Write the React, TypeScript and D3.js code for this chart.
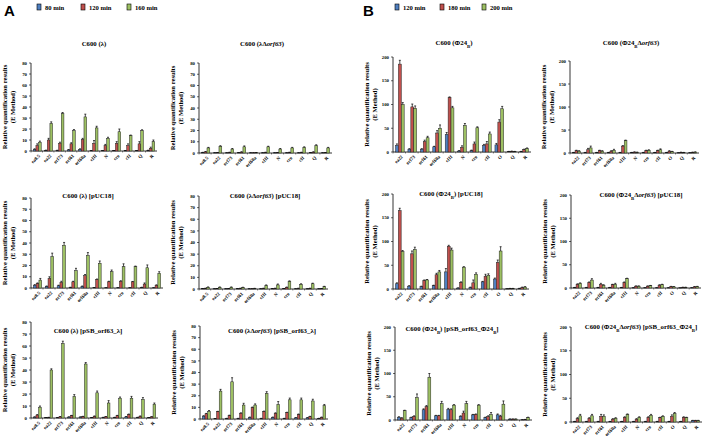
import React from 'react';
import * as d3 from 'd3';

// gene categories
const catsA = ['ea8.5', 'ea22', 'orf73', 'orf61', 'orf60a', 'cIII', 'N', 'cro', 'cII', 'Q', 'R'];
const catsB = ['ea22', 'orf73', 'orf61', 'orf60a', 'cIII', 'N', 'cro', 'cII', 'O', 'Q', 'R'];

const ticksA = [0, 10, 20, 30, 40, 50, 60, 70, 80];
const ticksB = [0, 50, 100, 150, 200];

const legendA = ['80 min', '120 min', '160 min'];
const legendB = ['120 min', '180 min', '200 min'];

// A1  C600 (λ)
const a1Blue = [1.5, 0.5, 0.5, 1, 1.5, 0.3, 0.3, 0.3, 0.3, 0.3, 0.5];
const a1Red = [5, 10, 7, 6.5, 10.5, 7, 5, 7, 5, 6.5, 2.5];
const a1Green = [8, 25, 34, 18.5, 31, 21, 11.5, 17.5, 14, 18.5, 8.5];
const a1BlueErr = [0.5, 0.3, 0.2, 0.3, 0.5, 0.1, 0.1, 0.1, 0.1, 0.1, 0.2];
const a1RedErr = [1.5, 1.5, 1, 1, 1, 2.5, 1, 1.5, 1.5, 2, 1];
const a1GreenErr = [1, 1.5, 1, 1, 2.5, 1.5, 1, 2.5, 0.5, 0.8, 1.5];

// A2  C600 (λΔorf63)
const a2Blue = [0.5, 0.2, 0.2, 0.3, 0.2, 0.2, 0.2, 0.2, 0.2, 0.3, 0.2];
const a2Red = [1, 0.3, 0.5, 0.8, 0.2, 0.5, 0.3, 0.5, 0.5, 0.8, 0.3];
const a2Green = [4.5, 6, 3.5, 5.5, 0.3, 5.5, 3.5, 4.5, 5, 6.5, 4.5];
const a2BlueErr = [0.1, 0.1, 0.1, 0.1, 0.1, 0.1, 0.1, 0.1, 0.1, 0.1, 0.1];
const a2RedErr = [0.3, 0.1, 0.2, 0.3, 0.1, 0.2, 0.1, 0.2, 0.2, 0.3, 0.1];
const a2GreenErr = [0.5, 0.5, 0.5, 0.8, 0.1, 0.5, 0.5, 0.5, 0.5, 0.8, 0.5];

// B1  C600 (Φ24B)
const b1Blue = [14, 6, 6, 11, 37, 2, 3, 14, 15, 1, 1];
const b1Red = [185, 95, 22, 40, 115, 10, 17, 17, 63, 1.5, 5];
const b1Green = [100, 92, 30, 50, 93, 56, 51, 38, 91, 1, 7];
const b1BlueErr = [3, 1, 1, 1, 4, 1, 1, 2, 3, 0.3, 0.3];
const b1RedErr = [8, 6, 3, 5, 1, 3, 4, 5, 5, 0.5, 1];
const b1GreenErr = [4, 5, 3, 7, 3, 4, 2, 4, 5, 0.3, 1.5];

// B2  C600 (Φ24BΔorf63)
const b2Blue = [1, 1, 1, 1, 1, 1, 1, 1, 1, 0.5, 0.5];
const b2Red = [5, 7, 5, 4, 15, 2, 5, 5, 4, 1.5, 1.5];
const b2Green = [4, 11, 4, 6, 27, 1.5, 6, 7, 3, 1, 2];
const b2BlueErr = [0.3, 0.3, 0.3, 0.3, 0.3, 0.3, 0.3, 0.3, 0.3, 0.2, 0.2];
const b2RedErr = [1, 3, 1, 1, 1, 0.5, 1, 1, 1, 0.3, 0.5];
const b2GreenErr = [1, 4, 1, 2, 1, 0.5, 1, 2, 0.5, 0.3, 0.5];

// A3  C600 (λ) [pUC18]
const a3Blue = [2.5, 1.5, 2, 0.5, 1.5, 0.3, 0.2, 0.2, 0.2, 0.5, 0.2];
const a3Red = [4, 8.5, 5, 5.5, 11, 7.5, 5.5, 6, 5.5, 3.5, 2.5];
const a3Green = [7, 28, 38, 15.5, 29, 22, 14.5, 19, 19, 18, 13];
const a3BlueErr = [0.5, 0.3, 0.5, 0.2, 0.3, 0.1, 0.1, 0.1, 0.1, 0.2, 0.1];
const a3RedErr = [0.5, 1.5, 1, 0.5, 1, 0.5, 0.5, 0.5, 0.3, 1, 0.3];
const a3GreenErr = [1.5, 3, 2.5, 2, 2.5, 2, 1.5, 2.5, 0.5, 2.5, 1.5];

// A4  C600 (λΔorf63) [pUC18]
const a4Blue = [0.3, 0.2, 0.2, 0.3, 0.2, 0.2, 0.3, 0.3, 0.2, 0.2, 0.2];
const a4Red = [0.5, 0.3, 0.3, 0.5, 0.2, 0.5, 0.5, 1.5, 0.5, 0.5, 0.3];
const a4Green = [1.5, 1.5, 1.5, 1.2, 0.5, 3, 3.5, 6.5, 4, 4.5, 2];
const a4BlueErr = [0.1, 0.1, 0.1, 0.1, 0.1, 0.1, 0.1, 0.1, 0.1, 0.1, 0.1];
const a4RedErr = [0.2, 0.1, 0.1, 0.2, 0.1, 0.2, 0.2, 0.2, 0.2, 0.2, 0.1];
const a4GreenErr = [0.3, 0.3, 0.3, 0.3, 0.1, 0.5, 0.8, 0.5, 0.5, 0.5, 0.3];

// B3  C600 (Φ24B) [pUC18]
const b3Blue = [11, 6, 5, 7, 36, 2, 3, 15, 21, 0.5, 1];
const b3Red = [165, 74, 18, 30, 90, 14, 13, 27, 56, 1, 3];
const b3Green = [79, 83, 19, 36, 82, 46, 31, 29, 80, 1, 4];
const b3BlueErr = [2, 1, 1, 1, 7, 0.5, 1, 1, 2, 0.2, 0.5];
const b3RedErr = [5, 6, 1, 3, 2, 1, 6, 4, 5, 0.3, 1];
const b3GreenErr = [2, 5, 1, 3, 4, 1, 3, 3, 9, 0.3, 1];

// B4  C600 (Φ24BΔorf63) [pUC18]
const b4Blue = [1, 1, 1, 1, 1, 0.5, 0.5, 0.5, 0.5, 0.3, 0.5];
const b4Red = [8, 12, 8, 7, 12, 4, 4, 6, 3, 1.5, 2.5];
const b4Green = [10, 17, 6, 8, 20, 4, 5, 7, 2.5, 1.5, 3];
const b4BlueErr = [0.3, 0.3, 0.3, 0.3, 0.3, 0.2, 0.2, 0.2, 0.2, 0.1, 0.2];
const b4RedErr = [1, 1, 2, 1, 1, 0.5, 0.5, 1, 0.5, 0.3, 0.5];
const b4GreenErr = [1, 3, 1, 2, 1, 0.5, 0.5, 1, 0.5, 0.3, 0.5];

// A5  C600 (λ) [pSB_orf63_λ]
const a5Blue = [0.8, 0.3, 0.3, 0.8, 0.8, 0.3, 0.5, 0.5, 1, 0.5, 0.3];
const a5Red = [2.5, 0.5, 1, 2, 1.2, 1.5, 1, 2, 3, 1.5, 1];
const a5Green = [9, 40, 62, 18, 45, 21, 12.5, 16.5, 16.5, 15.5, 11.5];
const a5BlueErr = [0.2, 0.1, 0.1, 0.2, 0.2, 0.1, 0.1, 0.1, 0.2, 0.1, 0.1];
const a5RedErr = [0.3, 0.1, 0.2, 0.2, 0.2, 0.2, 0.2, 0.2, 0.3, 0.2, 0.1];
const a5GreenErr = [1, 1, 2, 1.5, 1.2, 1.5, 2, 1, 1.5, 1.5, 1];

// A6  C600 (λΔorf63) [pSB_orf63_λ]
const a6Blue = [2.5, 0.3, 0.5, 0.5, 1.5, 0.5, 1.5, 0.5, 1, 1, 0.5];
const a6Red = [4.5, 6.5, 3, 5, 10, 6.5, 5, 5.5, 4, 2, 1.5];
const a6Green = [6.5, 24, 32, 12, 12, 22, 12.5, 16.5, 16.5, 15.5, 11.5];
const a6BlueErr = [0.3, 0.1, 0.1, 0.1, 0.2, 0.1, 0.2, 0.1, 0.2, 0.2, 0.1];
const a6RedErr = [0.3, 0.1, 0.3, 0.3, 0.3, 0.3, 0.3, 0.3, 0.3, 0.3, 0.2];
const a6GreenErr = [0.8, 1.5, 3.5, 1.5, 1, 1.5, 2.5, 1.5, 1.5, 1.5, 1];

// B5  C600 (Φ24B) [pSB_orf63_Φ24B]
const b5Blue = [6, 5, 22, 9, 23, 8, 11, 5, 11, 2, 0.5];
const b5Red = [4, 8, 29, 9, 22, 15, 12, 7, 8, 2, 1];
const b5Green = [20, 48, 92, 35, 32, 35, 32, 12, 34, 2, 5];
const b5BlueErr = [1, 1, 2, 1, 2, 1, 1, 1, 2, 0.3, 0.3];
const b5RedErr = [1, 1, 2, 1, 2, 4, 1, 2, 2, 0.3, 0.3];
const b5GreenErr = [1, 8, 8, 5, 1, 5, 1, 4, 7, 0.3, 1];

// B6  C600 (Φ24BΔorf63) [pSB_orf63_Φ24B]
const b6Blue = [1, 1, 1, 1, 1, 1, 1, 1, 1, 1, 3];
const b6Red = [7, 8, 12, 6, 10, 6, 10, 9, 12, 10, 3];
const b6Green = [13, 13, 12, 8, 16, 10, 14, 12, 18, 9, 3];
const b6BlueErr = [0.3, 0.3, 0.3, 0.3, 0.3, 0.3, 0.3, 0.3, 0.3, 0.3, 0.5];
const b6RedErr = [2, 1, 4, 1, 1, 1, 1, 1, 3, 1, 0.5];
const b6GreenErr = [3, 3, 3, 1, 1, 1, 2, 1, 2, 1, 0.5];

const colors = ['#4f7fc0', '#c0504d', '#9dc063'];
const serif = '"Liberation Serif", "Times New Roman", serif';

type PanelDef = {
  cats: string[];
  series: number[][];
  errs: number[][];
  ticks: number[];
  max: number;
  frame: [number, number, number, number]; // x0, x1, yTop, yZero
  title: { x: number; y: number; phage: 'l' | 'p'; mutant: boolean; plasmid: '' | 'pUC' | 'pSB' };
};

const panels: PanelDef[] = [
  { cats: catsA, series: [a1Blue, a1Red, a1Green], errs: [a1BlueErr, a1RedErr, a1GreenErr], ticks: ticksA, max: 80,
    frame: [31, 157, 63, 151], title: { x: 94, y: 46, phage: 'l', mutant: false, plasmid: '' } },
  { cats: catsA, series: [a2Blue, a2Red, a2Green], errs: [a2BlueErr, a2RedErr, a2GreenErr], ticks: ticksA, max: 80,
    frame: [199, 332, 63, 153], title: { x: 262, y: 46, phage: 'l', mutant: true, plasmid: '' } },
  { cats: catsB, series: [b1Blue, b1Red, b1Green], errs: [b1BlueErr, b1RedErr, b1GreenErr], ticks: ticksB, max: 200,
    frame: [393, 531, 57, 152], title: { x: 454, y: 45, phage: 'p', mutant: false, plasmid: '' } },
  { cats: catsB, series: [b2Blue, b2Red, b2Green], errs: [b2BlueErr, b2RedErr, b2GreenErr], ticks: ticksB, max: 200,
    frame: [570, 699, 61, 153], title: { x: 631, y: 45, phage: 'p', mutant: true, plasmid: '' } },
  { cats: catsA, series: [a3Blue, a3Red, a3Green], errs: [a3BlueErr, a3RedErr, a3GreenErr], ticks: ticksA, max: 80,
    frame: [31, 163, 198, 288], title: { x: 88, y: 198, phage: 'l', mutant: false, plasmid: 'pUC' } },
  { cats: catsA, series: [a4Blue, a4Red, a4Green], errs: [a4BlueErr, a4RedErr, a4GreenErr], ticks: ticksA, max: 80,
    frame: [199, 328, 196, 289], title: { x: 265, y: 198, phage: 'l', mutant: true, plasmid: 'pUC' } },
  { cats: catsB, series: [b3Blue, b3Red, b3Green], errs: [b3BlueErr, b3RedErr, b3GreenErr], ticks: ticksB, max: 200,
    frame: [393, 529, 194, 289], title: { x: 451, y: 196, phage: 'p', mutant: false, plasmid: 'pUC' } },
  { cats: catsB, series: [b4Blue, b4Red, b4Green], errs: [b4BlueErr, b4RedErr, b4GreenErr], ticks: ticksB, max: 200,
    frame: [571, 701, 195, 288], title: { x: 641, y: 197, phage: 'p', mutant: true, plasmid: 'pUC' } },
  { cats: catsA, series: [a5Blue, a5Red, a5Green], errs: [a5BlueErr, a5RedErr, a5GreenErr], ticks: ticksA, max: 80,
    frame: [31, 158, 322, 418], title: { x: 88, y: 333, phage: 'l', mutant: false, plasmid: 'pSB' } },
  { cats: catsA, series: [a6Blue, a6Red, a6Green], errs: [a6BlueErr, a6RedErr, a6GreenErr], ticks: ticksA, max: 80,
    frame: [200, 328, 326, 419], title: { x: 272, y: 333, phage: 'l', mutant: true, plasmid: 'pSB' } },
  { cats: catsB, series: [b5Blue, b5Red, b5Green], errs: [b5BlueErr, b5RedErr, b5GreenErr], ticks: ticksB, max: 200,
    frame: [395, 532, 327, 420], title: { x: 452, y: 331, phage: 'p', mutant: false, plasmid: 'pSB' } },
  { cats: catsB, series: [b6Blue, b6Red, b6Green], errs: [b6BlueErr, b6RedErr, b6GreenErr], ticks: ticksB, max: 200,
    frame: [571, 702, 327, 422], title: { x: 641, y: 329, phage: 'p', mutant: true, plasmid: 'pSB' } },
];

const sub = (s: string) => (
  <tspan baselineShift="sub" fontSize="70%">{s}</tspan>
);

const Title = ({ t }: { t: PanelDef['title'] }) => {
  const phage = t.phage === 'l' ? <tspan>λ</tspan> : <><tspan>Φ24</tspan>{sub('B')}</>;
  let plasmid: React.ReactNode = null;
  if (t.plasmid === 'pUC') plasmid = <tspan> [pUC18]</tspan>;
  if (t.plasmid === 'pSB') {
    plasmid = t.phage === 'l'
      ? <tspan> [pSB_orf63_λ]</tspan>
      : <><tspan> [pSB_orf63_Φ24</tspan>{sub('B')}<tspan>]</tspan></>;
  }
  return (
    <text x={t.x} y={t.y} textAnchor="middle" fontSize={6.8} fontWeight="bold" fontFamily={serif}>
      <tspan>C600 (</tspan>
      {phage}
      {t.mutant && <><tspan>Δ</tspan><tspan fontStyle="italic">orf63</tspan></>}
      <tspan>)</tspan>
      {plasmid}
    </text>
  );
};

const Panel = ({ p }: { p: PanelDef }) => {
  const [x0, x1, yTop, yZero] = p.frame;
  const x = d3.scaleBand().domain(p.cats).range([x0, x1]).paddingInner(0.3).paddingOuter(0.2);
  const inner = d3.scaleBand().domain(['0', '1', '2']).range([0, x.bandwidth()]);
  const y = d3.scaleLinear().domain([0, p.max]).range([yZero, yTop]);
  const bw = inner.bandwidth();
  const midY = (yTop + yZero) / 2;
  const outer = d3.scaleBand().domain(p.cats).range([x0, x1]);

  return (
    <g>
      <Title t={p.title} />
      {/* y axis label */}
      <text transform={`translate(${x0 - 24},${midY}) rotate(-90)`} textAnchor="middle"
        fontSize={6.6} fontWeight="bold" fontFamily={serif}>Relative quantification results</text>
      <text transform={`translate(${x0 - 16},${midY}) rotate(-90)`} textAnchor="middle"
        fontSize={6.6} fontWeight="bold" fontFamily={serif}>(E Method)</text>
      {/* axes */}
      <line x1={x0} x2={x0} y1={yTop} y2={yZero} stroke="#000" strokeWidth={0.8} />
      <line x1={x0} x2={x1} y1={yZero} y2={yZero} stroke="#000" strokeWidth={0.8} />
      {p.ticks.map((t) => (
        <g key={t}>
          <line x1={x0 - 2} x2={x0} y1={y(t)} y2={y(t)} stroke="#000" strokeWidth={0.6} />
          <text x={x0 - 4} y={y(t)} dy="0.35em" textAnchor="end" fontSize={4.8} fontWeight="bold" fontFamily={serif}>{t}</text>
        </g>
      ))}
      {p.cats.map((c) => (
        <line key={'t' + c} x1={outer(c)!} x2={outer(c)!} y1={yZero} y2={yZero + 1.5} stroke="#000" strokeWidth={0.5} />
      ))}
      {/* bars */}
      {p.cats.map((c, i) => (
        <g key={c}>
          {p.series.map((s, k) => {
            const bx = x(c)! + inner(String(k))!;
            const v = s[i];
            const e = p.errs[k][i];
            const cx = bx + bw / 2;
            return (
              <g key={k}>
                <rect x={bx} y={y(v)} width={bw} height={yZero - y(v)} fill={colors[k]} stroke="#222" strokeWidth={0.5} />
                <line x1={cx} x2={cx} y1={y(v)} y2={y(v + e)} stroke="#000" strokeWidth={0.7} />
                <line x1={cx - 1} x2={cx + 1} y1={y(v + e)} y2={y(v + e)} stroke="#000" strokeWidth={0.7} />
              </g>
            );
          })}
          <text transform={`translate(${x(c)! + x.bandwidth() / 2 + 2},${yZero + 4}) rotate(-45)`} textAnchor="end"
            dy="0.35em" fontSize={4.8} fontWeight="bold" fontFamily={serif}>{c}</text>
        </g>
      ))}
    </g>
  );
};

const Legend = ({ x, labels, letter, lx }: { x: number[]; labels: string[]; letter: string; lx: number }) => (
  <g>
    <text x={lx} y={16} fontSize={15} fontWeight="bold" fontFamily='"Liberation Sans", Arial, sans-serif'>{letter}</text>
    {labels.map((l, k) => (
      <g key={l}>
        <rect x={x[k]} y={4} width={4} height={6} fill={colors[k]} stroke="#000" strokeWidth={0.6} />
        <text x={x[k] + 8} y={9.5} fontSize={6.6} fontWeight="bold" fontFamily={serif}>{l}</text>
      </g>
    ))}
  </g>
);

export default function App() {
  return (
    <svg width={708} height={442} style={{ position: 'absolute', left: 0, top: 0, background: '#fff' }}>
      <rect width={708} height={442} fill="#fff" />
      <Legend letter="A" lx={4} x={[37, 81, 127]} labels={legendA} />
      <Legend letter="B" lx={363} x={[395, 440, 482]} labels={legendB} />
      {panels.map((p, i) => <Panel key={i} p={p} />)}
    </svg>
  );
}
